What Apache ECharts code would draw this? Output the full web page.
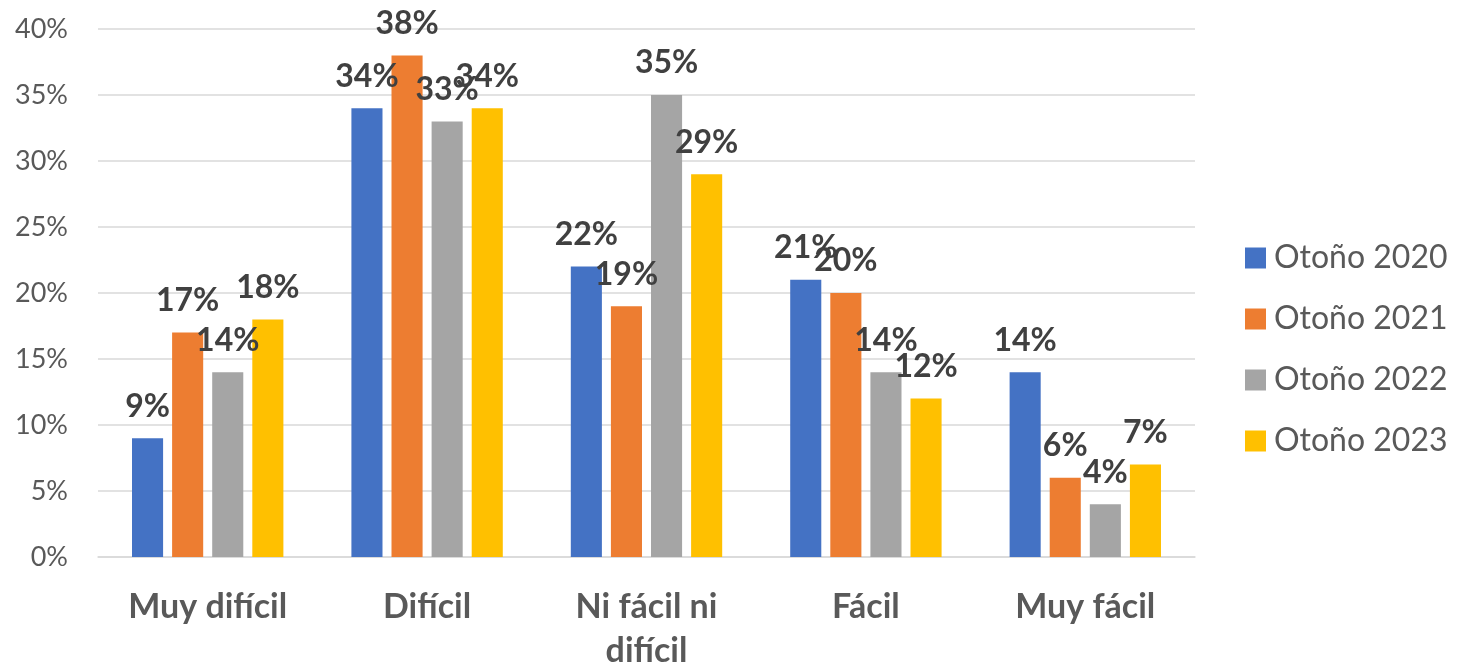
<!DOCTYPE html>
<html>
<head>
<meta charset="utf-8">
<script src="https://cdn.jsdelivr.net/npm/echarts@6/dist/echarts.min.js"></script>
<style>
  html, body { margin: 0; padding: 0; background: #fff; }
  #chart { width: 1458px; height: 664px; }
</style>
</head>
<body>
<div id="chart"></div>
<script>
// categorías y valores (%)
var categories = ['Muy difícil', 'Difícil', 'Ni fácil ni difícil', 'Fácil', 'Muy fácil'];
var seriesNames = ['Otoño 2020', 'Otoño 2021', 'Otoño 2022', 'Otoño 2023'];
var otono2020 = [9, 34, 22, 21, 14];
var otono2021 = [17, 38, 19, 20, 6];
var otono2022 = [14, 33, 35, 14, 4];
var otono2023 = [18, 34, 29, 12, 7];
var colors = ['#4472C4', '#ED7D31', '#A5A5A5', '#FFC000'];

var fontFamily = 'Lato, "Open Sans", sans-serif';
var myChart = echarts.init(document.getElementById('chart'));

function makeSeries(name, data, color) {
  return {
    name: name,
    type: 'bar',
    data: data,
    barGap: '29%',
    barCategoryGap: '31%',
    itemStyle: { color: color },
    label: {
      show: true,
      position: 'top',
      distance: 16,
      formatter: '{c}%',
      fontFamily: fontFamily,
      fontSize: 32,
      fontWeight: 'bold',
      color: '#404040'
    }
  };
}

var option = {
  animation: false,
  color: colors,
  grid: {
    left: 98,
    right: 263,
    top: 29,
    bottom: 107,
    outerBoundsMode: 'none'
  },
  legend: {
    orient: 'vertical',
    left: 1240,
    top: 237,
    itemWidth: 21,
    itemHeight: 21,
    itemGap: 29,
    icon: 'rect',
    data: seriesNames,
    textStyle: {
      fontFamily: fontFamily,
      fontSize: 32,
      lineHeight: 32,
      color: '#595959',
      padding: [0, 0, 0, 3]
    }
  },
  xAxis: {
    type: 'category',
    data: categories,
    axisLine: { show: true, lineStyle: { color: '#d9d9d9', width: 1.5 } },
    axisTick: { show: false },
    axisLabel: {
      interval: 0,
      margin: 28,
      fontFamily: fontFamily,
      fontSize: 34,
      fontWeight: 'bold',
      lineHeight: 44,
      color: '#595959',
      formatter: function (v) {
        return v === 'Ni fácil ni difícil' ? 'Ni fácil ni\ndifícil' : v;
      }
    }
  },
  yAxis: {
    type: 'value',
    min: 0,
    max: 40,
    interval: 5,
    axisLine: { show: false },
    axisTick: { show: false },
    splitLine: { lineStyle: { color: '#d9d9d9', width: 1.5 } },
    axisLabel: {
      margin: 30,
      fontFamily: fontFamily,
      fontSize: 27,
      color: '#595959',
      formatter: '{value}%'
    }
  },
  series: [
    makeSeries(seriesNames[0], otono2020, colors[0]),
    makeSeries(seriesNames[1], otono2021, colors[1]),
    makeSeries(seriesNames[2], otono2022, colors[2]),
    makeSeries(seriesNames[3], otono2023, colors[3])
  ]
};

myChart.setOption(option);
</script>
</body>
</html>
